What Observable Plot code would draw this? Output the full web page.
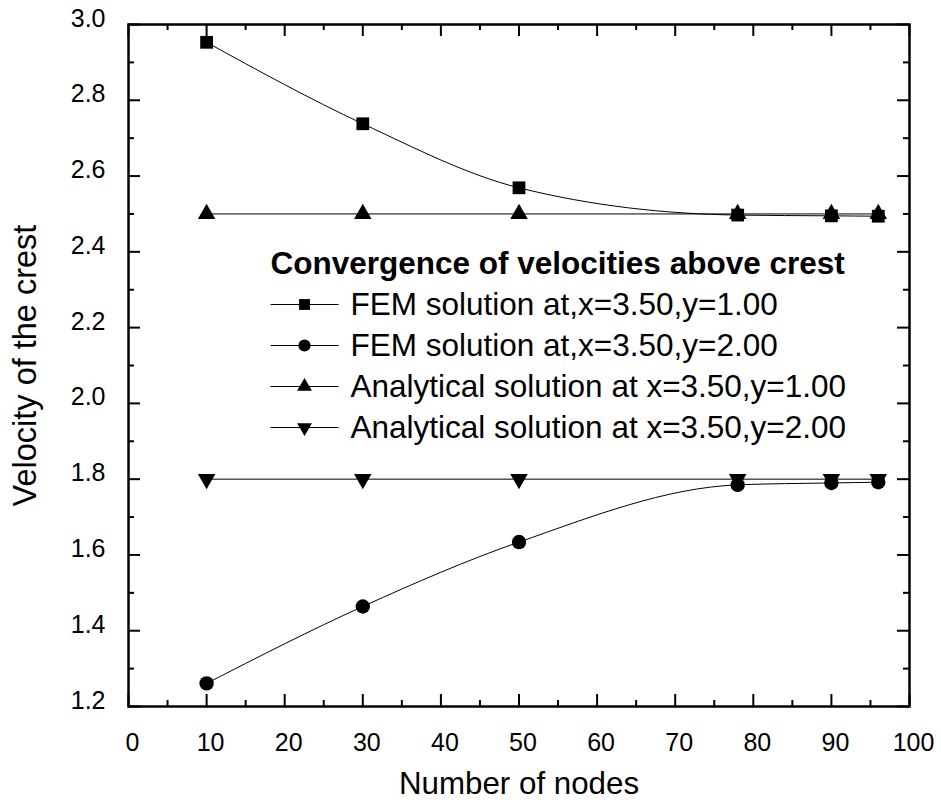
<!DOCTYPE html>
<html>
<head>
<meta charset="utf-8">
<script src="https://cdn.jsdelivr.net/npm/d3@7"></script>
<script src="https://cdn.jsdelivr.net/npm/@observablehq/plot@0.6"></script>
<style>
  html, body { margin: 0; padding: 0; background: #fff; }
  #chart svg { display: block; }
</style>
</head>
<body>
<div id="chart"></div>
<script>
// ---- Data ----
const nodes = [10, 30, 50, 78, 90, 96];
const femY1 = [2.953, 2.738, 2.569, 2.497, 2.495, 2.494];
const femY2 = [1.261, 1.464, 1.634, 1.785, 1.790, 1.792];
const anaY1 = [2.50, 2.50, 2.50, 2.50, 2.50, 2.50];
const anaY2 = [1.80, 1.80, 1.80, 1.80, 1.80, 1.80];

const legendTitle = "Convergence of velocities above crest";
const seriesNames = [
  "FEM solution at,x=3.50,y=1.00",
  "FEM solution at,x=3.50,y=2.00",
  "Analytical solution at x=3.50,y=1.00",
  "Analytical solution at x=3.50,y=2.00"
];

const xMajor = [0, 10, 20, 30, 40, 50, 60, 70, 80, 90, 100];
const xMinor = [5, 15, 25, 35, 45, 55, 65, 75, 85, 95];
const yMajor = [1.2, 1.4, 1.6, 1.8, 2.0, 2.2, 2.4, 2.6, 2.8, 3.0];
const yMinor = [1.3, 1.5, 1.7, 1.9, 2.1, 2.3, 2.5, 2.7, 2.9];

const xLabel = "Number of nodes";
const yLabel = "Velocity of the crest";

// ---- Build ----
const toRows = (ys) => nodes.map((x, i) => ({x, y: ys[i]}));
const series = [toRows(femY1), toRows(femY2), toRows(anaY1), toRows(anaY2)];

const invTriangle = {
  draw(context, size) {
    const y = Math.sqrt(size / (Math.sqrt(3) * 3));
    context.moveTo(0, 2 * y);
    context.lineTo(-Math.sqrt(3) * y, -y);
    context.lineTo(Math.sqrt(3) * y, -y);
    context.closePath();
  }
};
const hLine = {
  draw(context) {
    context.moveTo(-34, 0);
    context.lineTo(34, 0);
  }
};
const symbols = ["square", "circle", "triangle", invTriangle];
const radii = [7.2, 7.2, 6.5, 6.5];
const curves = ["monotone-x", "monotone-x", "linear", "linear"];

const W = 941, H = 803;
const mL = 128, mR = 32, mT = 24, mB = 97;
const innerH = H - mT - mB;
const innerW = W - mL - mR;
const font = "'Liberation Sans', Arial, Helvetica, sans-serif";

const marks = [];

// data lines
series.forEach((rows, i) => {
  marks.push(Plot.line(rows, {x: "x", y: "y", curve: curves[i], stroke: "black", strokeWidth: 1}));
});
// data markers
series.forEach((rows, i) => {
  marks.push(Plot.dot(rows, {x: "x", y: "y", symbol: symbols[i], r: radii[i], fill: "black", stroke: "none"}));
});

// inward ticks (bottom/top/left/right)
marks.push(Plot.tickX(xMajor, {x: d => d, insetTop: innerH - 12, stroke: "black", strokeWidth: 2}));
marks.push(Plot.tickX(xMinor, {x: d => d, insetTop: innerH - 6, stroke: "black", strokeWidth: 2}));
marks.push(Plot.tickX(xMajor, {x: d => d, insetBottom: innerH - 12, stroke: "black", strokeWidth: 2}));
marks.push(Plot.tickX(xMinor, {x: d => d, insetBottom: innerH - 6, stroke: "black", strokeWidth: 2}));
marks.push(Plot.tickY(yMajor, {y: d => d, insetRight: innerW - 12, stroke: "black", strokeWidth: 2}));
marks.push(Plot.tickY(yMinor, {y: d => d, insetRight: innerW - 6, stroke: "black", strokeWidth: 2}));
marks.push(Plot.tickY(yMajor, {y: d => d, insetLeft: innerW - 12, stroke: "black", strokeWidth: 2}));
marks.push(Plot.tickY(yMinor, {y: d => d, insetLeft: innerW - 6, stroke: "black", strokeWidth: 2}));

// frame
marks.push(Plot.frame({stroke: "black", strokeWidth: 2.5}));

// tick labels
marks.push(Plot.axisX({ticks: xMajor, tickSize: 0, tickPadding: 27, dx: 4, fontSize: 25, label: null, tickFormat: d => String(d)}));
marks.push(Plot.axisY({ticks: yMajor, tickSize: 0, tickPadding: 23, dy: -6, fontSize: 25, label: null, tickFormat: d3.format(".1f")}));

// axis titles
marks.push(Plot.text([xLabel], {text: d => d, frameAnchor: "bottom", dy: 87, textAnchor: "middle", lineAnchor: "bottom", fontSize: 31.3, fill: "black"}));
marks.push(Plot.text([yLabel], {text: d => d, frameAnchor: "left", dx: -93, rotate: -90, textAnchor: "middle", lineAnchor: "bottom", fontSize: 32.5, fill: "black"}));

// legend
const legTop = 239, legStep = 41;
const legFont = 31.5;
marks.push(Plot.text([legendTitle], {text: d => d, frameAnchor: "top-left", dx: 142, dy: legTop, textAnchor: "start", lineAnchor: "middle", fontSize: legFont, fontWeight: "bold", fill: "black"}));
seriesNames.forEach((name, i) => {
  const dy = legTop + legStep * (i + 1);
  marks.push(Plot.dot([name], {frameAnchor: "top-left", dx: 176, dy, symbol: hLine, r: 5, fill: "none", stroke: "black", strokeWidth: 1}));
  marks.push(Plot.dot([name], {frameAnchor: "top-left", dx: 176, dy, symbol: symbols[i], r: radii[i] * 0.85, fill: "black", stroke: "none"}));
  marks.push(Plot.text([name], {text: d => d, frameAnchor: "top-left", dx: 222, dy, textAnchor: "start", lineAnchor: "middle", fontSize: legFont, fill: "black"}));
});

const chart = Plot.plot({
  width: W,
  height: H,
  marginLeft: mL,
  marginRight: mR,
  marginTop: mT,
  marginBottom: mB,
  style: {fontFamily: font, color: "black", background: "white", overflow: "visible"},
  x: {domain: [0, 100]},
  y: {domain: [1.2, 3.0]},
  marks
});
document.getElementById("chart").appendChild(chart);
</script>
</body>
</html>
